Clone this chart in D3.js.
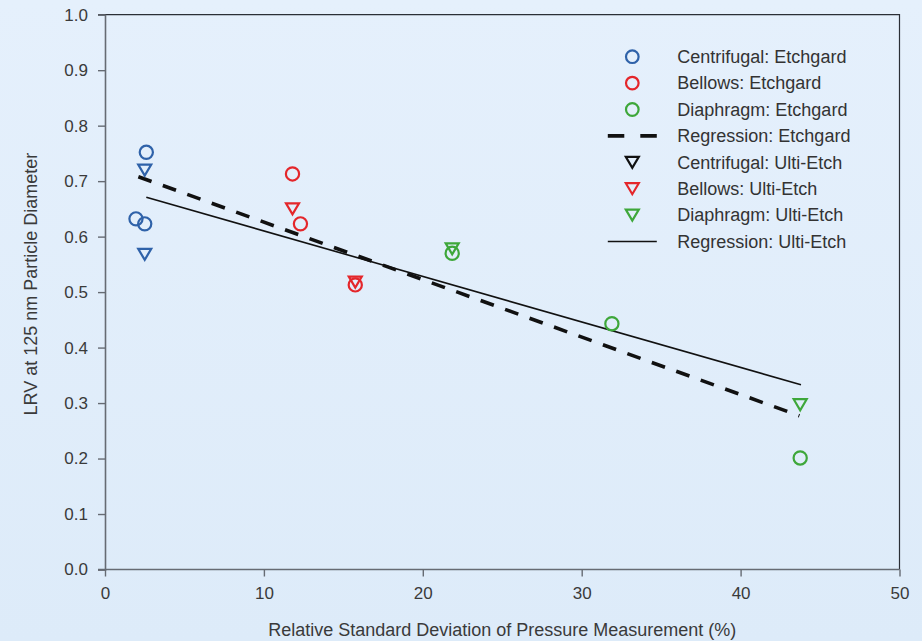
<!DOCTYPE html>
<html>
<head>
<meta charset="utf-8">
<script src="https://cdn.jsdelivr.net/npm/d3@7"></script>
<style>
  html, body { margin: 0; padding: 0; background: #e0eefa; }
  svg { display: block; font-family: "Liberation Sans", Arial, Helvetica, sans-serif; }
</style>
</head>
<body>
<svg id="chart" width="922" height="641"></svg>
<script>
// Etchgard (circles)
const etchCentrifugal = [[2.6, 0.752], [1.95, 0.632], [2.5, 0.623]];
const etchBellows     = [[11.8, 0.713], [12.3, 0.623], [15.75, 0.513]];
const etchDiaphragm   = [[21.85, 0.570], [31.9, 0.443], [43.75, 0.201]];
// Ulti-Etch (triangles)
const ultiCentrifugal = [[2.5, 0.720], [2.5, 0.568]];
const ultiBellows     = [[11.8, 0.650], [15.75, 0.518]];
const ultiDiaphragm   = [[21.85, 0.578], [43.75, 0.297]];
// Regression lines (endpoints)
const regEtchgard = [[2.1, 0.708], [43.7, 0.277]];
const regUltiEtch = [[2.6, 0.671], [43.8, 0.333]];

const xTicks = [0, 10, 20, 30, 40, 50];
const yTicks = [0, 0.1, 0.2, 0.3, 0.4, 0.5, 0.6, 0.7, 0.8, 0.9, 1.0];

const legendItems = [
  {label: "Centrifugal: Etchgard", type: "circle", color: "#2f62a9"},
  {label: "Bellows: Etchgard", type: "circle", color: "#e4262b"},
  {label: "Diaphragm: Etchgard", type: "circle", color: "#3ea73a"},
  {label: "Regression: Etchgard", type: "dash", color: "#111"},
  {label: "Centrifugal: Ulti-Etch", type: "tri", color: "#111"},
  {label: "Bellows: Ulti-Etch", type: "tri", color: "#e4262b"},
  {label: "Diaphragm: Ulti-Etch", type: "tri", color: "#3ea73a"},
  {label: "Regression: Ulti-Etch", type: "solid", color: "#111"}
];

const BLUE = "#2f62a9", RED = "#e4262b", GREEN = "#3ea73a";
const TEXT = "#3a3a3a";

const svg = d3.select("#chart");
const W = 922, H = 641;
const m = {left: 105, right: 899.5, top: 14.7, bottom: 569.5};

// soft blue background
const defs = svg.append("defs");
const grad = defs.append("linearGradient").attr("id", "bg").attr("x1", 0).attr("y1", 0).attr("x2", 0).attr("y2", 1);
grad.append("stop").attr("offset", "0%").attr("stop-color", "#e5f0fc");
grad.append("stop").attr("offset", "100%").attr("stop-color", "#ddebf9");
svg.append("rect").attr("width", W).attr("height", H).attr("fill", "url(#bg)");

const x = d3.scaleLinear().domain([0, 50]).range([m.left, m.right]);
const y = d3.scaleLinear().domain([0, 1]).range([m.bottom, m.top]);

// frame: top and right edges
svg.append("path")
  .attr("d", `M${m.left - 7},${m.top}H${m.right}V${m.bottom}`)
  .attr("fill", "none").attr("stroke", "#2b2f36").attr("stroke-width", 1.2);

// axes
const xAxis = svg.append("g").attr("transform", `translate(0,${m.bottom})`)
  .call(d3.axisBottom(x).tickValues(xTicks).tickSize(7).tickPadding(10).tickFormat(d3.format("d")));
const yAxis = svg.append("g").attr("transform", `translate(${m.left},0)`)
  .call(d3.axisLeft(y).tickValues(yTicks).tickSize(7).tickPadding(10).tickFormat(d3.format(".1f")));
[xAxis, yAxis].forEach(g => {
  g.select(".domain").attr("stroke", "#666b73").attr("stroke-width", 1.6);
  g.selectAll(".tick line").attr("stroke", "#666b73").attr("stroke-width", 1.4);
  g.selectAll(".tick text").attr("fill", TEXT).attr("font-size", 17)
    .attr("font-family", "'Liberation Sans', Arial, sans-serif");
});
xAxis.select(".domain").attr("d", `M${m.left - 7},0H${m.right}`);

// axis titles
svg.append("text")
  .attr("x", (m.left + m.right) / 2).attr("y", 636)
  .attr("text-anchor", "middle").attr("font-size", 18).attr("fill", TEXT)
  .text("Relative Standard Deviation of Pressure Measurement (%)");
svg.append("text")
  .attr("transform", `translate(37,${(m.top + m.bottom) / 2 - 8}) rotate(-90)`)
  .attr("text-anchor", "middle").attr("font-size", 18).attr("fill", TEXT)
  .text("LRV at 125 nm Particle Diameter");

// regression lines
const line = d3.line().x(d => x(d[0])).y(d => y(d[1]));
svg.append("path").datum(regUltiEtch).attr("d", line)
  .attr("fill", "none").attr("stroke", "#111").attr("stroke-width", 1.6);
svg.append("path").datum(regEtchgard).attr("d", line)
  .attr("fill", "none").attr("stroke", "#111").attr("stroke-width", 3.6)
  .attr("stroke-dasharray", "14,12");

// markers
const triPath = "M-6.5,-5.5L6.5,-5.5L0,5.5Z";
function circles(data, color) {
  svg.append("g").selectAll("circle").data(data).join("circle")
    .attr("cx", d => x(d[0])).attr("cy", d => y(d[1])).attr("r", 6.6)
    .attr("fill", "none").attr("stroke", color).attr("stroke-width", 2.2);
}
function triangles(data, color) {
  svg.append("g").selectAll("path").data(data).join("path")
    .attr("transform", d => `translate(${x(d[0])},${y(d[1])})`)
    .attr("d", triPath)
    .attr("fill", "none").attr("stroke", color).attr("stroke-width", 2.2);
}
circles(etchCentrifugal, BLUE);
triangles(ultiCentrifugal, BLUE);
circles(etchBellows, RED);
triangles(ultiBellows, RED);
circles(etchDiaphragm, GREEN);
triangles(ultiDiaphragm, GREEN);

// legend
const lg = svg.append("g").attr("transform", "translate(632.3,56.7)");
const rowH = 26.4;
legendItems.forEach((it, i) => {
  const g = lg.append("g").attr("transform", `translate(0,${i * rowH})`);
  if (it.type === "circle") {
    g.append("circle").attr("r", 6.3).attr("fill", "none").attr("stroke", it.color).attr("stroke-width", 2.2);
  } else if (it.type === "tri") {
    g.append("path").attr("d", triPath).attr("fill", "none").attr("stroke", it.color).attr("stroke-width", 2.2);
  } else if (it.type === "dash") {
    g.append("line").attr("x1", -24.5).attr("x2", 24.5).attr("stroke", it.color)
      .attr("stroke-width", 3.6).attr("stroke-dasharray", "16.5,16");
  } else {
    g.append("line").attr("x1", -24.5).attr("x2", 24.5).attr("stroke", it.color).attr("stroke-width", 1.6);
  }
  g.append("text").attr("x", 45).attr("y", 0).attr("dy", "0.35em")
    .attr("font-size", 18).attr("fill", "#333").text(it.label);
});
</script>
</body>
</html>
